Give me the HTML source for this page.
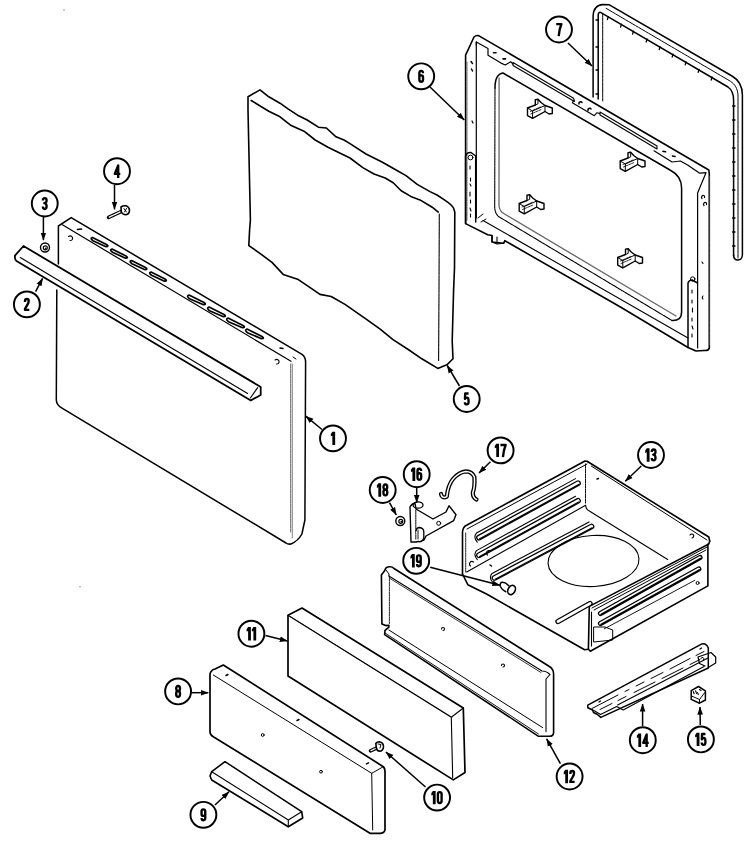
<!DOCTYPE html>
<html><head><meta charset="utf-8">
<style>
html,body{margin:0;padding:0;background:#fff;width:750px;height:858px;overflow:hidden;}
svg{display:block;}
</style></head><body>
<svg width="750" height="858" viewBox="0 0 750 858">
<defs>
<marker id="ah" viewBox="0 0 10 10" refX="9.5" refY="5" markerWidth="8" markerHeight="8" orient="auto" markerUnits="userSpaceOnUse">
<path d="M0,1.5 L10,5 L0,8.5 z" fill="#000"/>
</marker>
<g id="clip">
<path d="M0.2,9 L8,6 L8,0.6 L10.7,0.3 L13.7,3.5 L17.7,6.5 L25,9 L25,14.5 L21.7,15 L17.7,12.5 L5.3,19.3 L0.2,16.6 Z" stroke-width="1.4"/>
<path d="M5.3,19.3 L5.3,12 L17.7,6.5 M0.2,9 L5.3,12 M17.7,6.5 L17.7,12.5 M8,6 L10.7,4.8 L10.7,0.3" stroke-width="1"/>
<path d="M3,12.5 L13,8 M3.5,15 L14,10.5" stroke-width="0.8" stroke-dasharray="2,1"/>
</g>
</defs>
<g fill="none" stroke="#000" stroke-width="1.4" stroke-linejoin="round" stroke-linecap="round">

<!-- PART 1 DOOR -->
<path d="M58.4,264 L58.4,226 L71.2,217.6 L302,354.3 Q305.6,357 305.6,362 L304.9,520 L301.9,534 Q298,541 291,544 Q288,544.5 286,543 L62,408.2 Q56.5,405 56.3,400 L56.8,290" stroke-width="1.5"/>
<path d="M62.4,224.8 L291,361.3" stroke-width="1.2"/>
<path d="M290.7,364 L290.7,532" stroke="#444" stroke-width="0.9" stroke-dasharray="1.5,1"/>
<path d="M292.3,364 L292.3,538" stroke="#777" stroke-width="0.9"/>
<g stroke-width="1.7">
<path d="M92.5,237.5 L106.5,244.5 Q109.5,246.6 106.0,246.7 L93.0,240.7 Q89.5,238.1 92.5,237.5z"/>
<path d="M112.0,249.0 L126.0,256.0 Q129.0,258.1 125.5,258.2 L112.5,252.2 Q109.0,249.6 112.0,249.0z"/>
<path d="M131.5,260.5 L145.5,267.5 Q148.5,269.6 145.0,269.7 L132.0,263.7 Q128.5,261.1 131.5,260.5z"/>
<path d="M151.0,272.0 L165.0,279.0 Q168.0,281.1 164.5,281.2 L151.5,275.2 Q148.0,272.6 151.0,272.0z"/>
<path d="M189.0,295.0 L204.0,302.5 Q207.0,304.6 203.5,304.7 L189.5,298.7 Q186.0,296.1 189.0,295.0z"/>
<path d="M209.0,307.0 L224.0,314.5 Q227.0,316.6 223.5,316.7 L209.5,310.7 Q206.0,308.1 209.0,307.0z"/>
<path d="M228.0,318.0 L243.0,325.5 Q246.0,327.6 242.5,327.7 L228.5,321.7 Q225.0,319.1 228.0,318.0z"/>
<path d="M247.0,329.0 L262.0,336.5 Q265.0,338.6 261.5,338.7 L247.5,332.7 Q244.0,330.1 247.0,329.0z"/>
</g>
<path d="M68.5,236.5 Q71,235 72.5,237.5 Q73,240.5 70,240.5" stroke-width="1.1"/>
<path d="M77.5,229.5 L81.5,229" stroke-width="1.6"/>
<path d="M275,360 Q277.5,358.5 279,361 Q279.5,364 276.5,364" stroke-width="1.1"/>
<path d="M280,348 L283,348.5" stroke-width="1.4"/>
<path d="M293,357 L296,359" stroke-width="1"/>

<!-- PART 2 HANDLE -->
<path d="M23.5,246 L259.1,386 L260.7,387 L260.7,395 L250.8,400.4 L16.5,261 Q15,260 14.9,257.5 L14.9,255.6 Z" fill="#fff" stroke-width="1.8"/>
<path d="M20.3,257.5 L247.6,393.5" stroke-width="1.1"/>
<path d="M257.7,387.6 L250.3,398" stroke-width="1.1"/>
<!-- PART 3 nut -->
<circle cx="45" cy="247.5" r="4.5" stroke-width="1.4"/>
<circle cx="45.3" cy="247.8" r="2" stroke-width="1.2"/>
<circle cx="45.6" cy="248.2" r="0.8" fill="#000" stroke="none"/>
<!-- PART 4 screw -->
<path d="M108.6,217.4 L121,211.6" stroke-width="3.6"/>
<path d="M109.2,217.1 L120.6,211.8" stroke="#fff" stroke-width="1.3" stroke-dasharray="1.2,1"/>
<path d="M121,207 Q123,205.5 126,205.8 Q129.5,207 129.5,211 Q129,214.5 126,214.8 Q122.5,214.6 121.3,212 Z" fill="#fff" stroke-width="1.6"/>
<path d="M124,208.5 L126.5,212 M126.5,208.5 L124.5,212" stroke-width="1"/>

<!-- PART 5 INSULATION -->
<path d="M248,96.8 L260,89.9 L268.8,96.8 L280,103.2 L288,108.8 L297.6,115.2 L307.2,120 L318.4,127.2 L326.4,128 L336,136.8 L344,140 L350,143.6 L366,154 L382,162 L394.8,169.2 L406,175.6 L417.2,184.4 L430,191.6 L437,195 L444.4,199.9 Q452,205 453.5,208 L454.8,212 L454.5,268 L453.6,290 L452.2,341 L453,358.8 L447.4,364.4 L437.8,368.4 L421.8,358.8 L409,350 L393,339.6 L380.2,329.2 L365.8,318.8 L345,304.4 L331.2,296.5 L320,294.4 L307.2,285.6 L297.6,279.2 L283.2,274.4 L272,262.4 L259.2,252.8 L248.8,245.6 L249.6,230 L250.4,220 L248,110 Z" stroke-width="1.6"/>
<path d="M251.2,100.5 L268.8,111.2 L280,116.8 L291.2,125.6 L304,131.2 L315.2,140 L328,147.2 L339.2,152.8 L350,158 L362.8,167.6 L374,174 L385.2,178 L393.2,182.8 L401.2,190.8 L410.8,196.4 L420,199.9 L432.2,207.2 L438.3,212.1" stroke-width="1.6"/>
<path d="M439.3,214 L439,290 L438.6,360.4" stroke-width="1.1" stroke-dasharray="3,0.6"/>

<!-- PART 7 GASKET (behind frame) -->
<path d="M593.1,97 L593.1,16 Q593.5,5 603,4.4 L609.4,4.8 L732,76 Q742.4,82 742.4,95 L742.4,255 Q742,260 738,260 Q733.6,260 733.6,255" stroke-width="1.5"/>
<path d="M598.2,99 L598.2,15 Q598.5,12 600.6,12.4 L728,87 Q733.6,91 733.6,100 L733.6,256" stroke-width="1.5"/>
<path d="M602.7,101 L602.7,14 M606.2,8.4 L730,81 Q738,86 738,96 L738,258" stroke-width="1" stroke-dasharray="3,0.8"/>
<g stroke-width="1.3">
<path d="M596,20 l2.5,0 M596,47 l2.5,0 M596,70 l2.5,0 M596,94 l2.5,0"/>
<path d="M608.2,16.6 l-0.8,3 M621.4,24.2 l-0.8,3 M633.4,31.2 l-0.8,3 M647,39 l-0.8,3 M660,46.6 l-0.8,3 M673,54.2 l-0.8,3 M686,61.8 l-0.8,3 M699,69.4 l-0.8,3 M712,77 l-0.8,3"/>
<path d="M732.5,106 l2.5,0 M732.5,120 l2.5,0 M732.5,134 l2.5,0 M732.5,148 l2.5,0 M732.5,162 l2.5,0 M732.5,176 l2.5,0 M732.5,190 l2.5,0 M732.5,204 l2.5,0 M732.5,218 l2.5,0 M732.5,232 l2.5,0 M732.5,246 l2.5,0"/>
</g>

<!-- PART 6 FRAME -->
<g>
<path d="M465.6,223.6 L465.6,55.2 L474,37 Q476,35 478.6,35.6 L708.8,170 L709.3,174 L709.3,348 Q708.5,351 704,350.5 L696,351 L688,347.5 L620,306.7 L504.8,240.7 L503.7,243.3 L492,242 L492,235.5 L487.7,234.8 Z" fill="#fff" stroke-width="1.6"/>
<path d="M476.3,42.1 L476.3,218" stroke-width="1.2"/>
<path d="M476.3,42.1 L488,48.6 L488,55.2 L501,63.1 L505.3,65 L510.7,61.7 L513,64" stroke-width="1.2"/>
<path d="M513,62.5 L573.6,98.3 L574.5,101.5 L513,65.5 Z" stroke-width="1.1"/>
<path d="M573.7,100.5 L572.3,102.7 L594.3,115.7 L597,112.7 L599.7,113.5" stroke-width="1.1"/>
<path d="M579,104 a1.6,1.3 -30 1,1 3,-1.5 M588,110.5 a1.6,1.3 -30 1,1 3,-1.5" stroke-width="1.5"/>
<path d="M600,112 L657,146 L657,149 L600,115 Z" stroke-width="1.1"/>
<path d="M654,150.8 L672,162 L680.5,161 L688,165.2 L699.7,173.2 L706,172.7 L697.6,193 L697.6,348" stroke-width="1.2"/>
<path d="M476.3,42.1 L476.3,45" stroke-width="1.2"/>
<path d="M467,62 L467,220" stroke="#555" stroke-width="0.9" stroke-dasharray="1.5,1"/>
<path d="M709.3,176 L709.3,346" stroke="#555" stroke-width="0.9" stroke-dasharray="1.5,1"/>
<!-- window -->
<path d="M495,88 Q495,74 503,73 L670,170 Q681.6,176 681.6,188 L681.6,312 Q681.6,321 672,320.5" stroke-width="1.5"/>
<path d="M495,88 L494.7,207 Q495,215 500.5,217.7 L672,320.5" stroke-width="1.1" stroke-dasharray="2,0.8"/>
<path d="M499.1,78 L499,205 Q499.5,211 503,213 L676,316" stroke="#666" stroke-width="1.3"/>
<!-- bottom flange line C -->
<path d="M483,220.4 L688,338" stroke-width="1.1"/>
<!-- left bracket -->
<path d="M465.6,223.6 L465.6,156 Q467,152 471,152.5 L475.7,156 L475.7,222" stroke-width="1.5"/>
<circle cx="470.5" cy="157.5" r="2.4" stroke-width="1"/>
<path d="M470,166 l0,3 M470.5,178 l0,3 M470,184 l1,2 M470,192 l0,4 M470.5,200 l0,3 M470,208 l1,3 M470.5,214 l0,3" stroke-width="1.1"/>
<!-- right bracket -->
<path d="M688,347.5 L688,283 Q689,280 692,280 L697.6,283" stroke-width="1.5"/>
<circle cx="692.7" cy="279" r="2.2" stroke-width="1"/>
<path d="M692,290 l0,3 M692,300 l0,3 M692.5,308 l0,4 M692,318 l0,3 M692,326 l1,3 M692,334 l0,3" stroke-width="1.1"/>
<!-- holes / marks -->
<path d="M471,61.5 l1.5,2 M471.5,69 l1,2" stroke-width="1.4"/>
<path d="M493.5,52.8 l2.5,0 M503,58.9 l2.5,0 M663,151.3 l2.5,0.5 M672.5,156 l2.5,0.5" stroke-width="1.6"/>
<path d="M702,198.5 a1.5,1.8 20 1,1 2.5,-1" stroke-width="1.2"/>
<path d="M704,205.5 a1.5,1.8 20 1,1 2.5,-1" stroke-width="1.2"/>
<path d="M702,262 l1,1.5 M703,296 q-1.5,2 0,3" stroke-width="1.1"/>
<path d="M472,121 l1,2" stroke-width="1.2"/>
<!-- bottom tab -->
<path d="M492,235.5 L492,242 L497,244 L503.7,243.3 L504.8,240.7 M497,237 L497,244" stroke-width="1.1"/>
<path d="M478,218 L483,214 M481,222 L486,219" stroke-width="1"/>
<!-- clips -->
<use href="#clip" x="527.3" y="99"/>
<use href="#clip" x="620" y="152"/>
<use href="#clip" x="519" y="194.5"/>
<use href="#clip" x="617.5" y="248.5"/>
</g>

<!-- PART 13 DRAWER -->
<g>
<!-- left wall -->
<path d="M462.5,574 L462.5,532 Q463,526.5 467,525 L585,461 L587.5,461.5" stroke-width="1.6"/>
<path d="M467,529 L587,464" stroke-width="1"/>
<path d="M465.7,533 L465.7,572" stroke-width="0.9" stroke-dasharray="1.5,1"/>
<path d="M466.7,571.9 L585.6,505.3" stroke-width="1.1"/>
<!-- back wall -->
<path d="M587.5,461.5 L708.8,537 L709.7,541" stroke-width="1.6"/>
<path d="M591.2,466 L707,540" stroke-width="1"/>
<path d="M585.5,464 L585.5,503" stroke-width="1" stroke-dasharray="1.5,1"/>
<path d="M585.6,505.3 Q586,510 589.3,511 L667.7,559.5" stroke-width="1.1"/>
<!-- right wall -->
<path d="M709.7,541 L708.8,544 L589.3,606.4 L588.4,649.3 L590.3,651.2 L707.9,585.9 L707.9,544" stroke-width="1.6" fill="#fff"/>
<path d="M707,547 L592,608 M706,550 L594,610" stroke-width="1"/>
<path d="M591.5,612 L591.5,646" stroke-width="1.1"/>
<!-- floor front edge -->
<path d="M462.5,574 L467.8,584.7 L487,594.3 L584.6,649.8 L588.4,649.3" stroke-width="1.6"/>
<!-- slots left -->
<path d="M479,537.6 L578,483.2" stroke-width="5.8" stroke-linecap="round"/><path d="M479,537.6 L578,483.2" stroke="#fff" stroke-width="3.2" stroke-linecap="round"/><path d="M479.67,538.83 L578.67,484.43" stroke-width="1.2"/><path d="M477.31,542.09 Q472.94,537.37 476.50,533.04 L575.50,478.64" stroke-width="1.1"/>
<path d="M479,555.2 L578,500.8" stroke-width="5.8" stroke-linecap="round"/><path d="M479,555.2 L578,500.8" stroke="#fff" stroke-width="3.2" stroke-linecap="round"/><path d="M479.67,556.43 L578.67,502.03" stroke-width="1.2"/><path d="M477.31,559.69 Q472.94,554.97 476.50,550.64 L575.50,496.24" stroke-width="1.1"/>
<path d="M494.5,578 L591.5,526.5" stroke-width="5.8" stroke-linecap="round"/><path d="M494.5,578 L591.5,526.5" stroke="#fff" stroke-width="3.2" stroke-linecap="round"/><path d="M495.16,579.24 L592.16,527.74" stroke-width="1.2"/><path d="M492.75,582.46 Q488.44,577.68 492.06,573.41 L589.06,521.91" stroke-width="1.1"/>
<!-- right wall slots -->
<path d="M600.5,613.5 L700,557.5" stroke-width="5.2" stroke-linecap="round"/><path d="M600.5,613.5 L700,557.5" stroke="#fff" stroke-width="2.6" stroke-linecap="round"/><path d="M601.04,614.46 L700.54,558.46" stroke-width="1.6"/>
<path d="M600.5,623.5 L698.8,569" stroke-width="5.2" stroke-linecap="round"/><path d="M600.5,623.5 L698.8,569" stroke="#fff" stroke-width="2.6" stroke-linecap="round"/><path d="M601.03,624.46 L699.33,569.96" stroke-width="1.6"/>
<path d="M604.3,628.8 L694.8,580.3" stroke-width="0.9"/>
<path d="M594,627 L605,627 L612.7,630 L612.7,640 L594,642 Z" stroke-width="1"/>
<circle cx="697.6" cy="583" r="1.5" stroke-width="1"/>
<!-- floor slot near front -->
<path d="M558,621.5 L590,603.5" stroke-width="5.4" stroke-linecap="round"/><path d="M558,621.5 L590,603.5" stroke="#fff" stroke-width="2.8" stroke-linecap="round"/>
<!-- floor circle -->
<ellipse cx="593.5" cy="561" rx="45.5" ry="25.5" transform="rotate(-3 593.5 561)" stroke-width="1.1"/>
<!-- holes -->
<path d="M470.5,566 a2.5,2.5 0 1,1 3,-4 M487.5,555 a2.5,2.5 0 1,1 3,-4" stroke-width="1.2"/>
<path d="M490,565 l1.5,1" stroke-width="1.5"/>
<path d="M597,479 l1.5,-0.5" stroke-width="1.4"/>
<path d="M690,535 a2,2 0 1,1 2,3" stroke-width="1.1"/>
</g>

<!-- PART 19 pin -->
<path d="M508.8,585.7 Q505,581.5 501.1,582.5 Q499.5,584.5 500.3,586.5 Q502,590 505.8,591.7" fill="#fff" stroke-width="1.5"/>
<ellipse cx="511.6" cy="590" rx="3.5" ry="4.9" transform="rotate(28 511.6 590)" stroke-width="1.6" fill="#fff"/>

<!-- PART 12 DRAWER FRONT -->
<path d="M387.8,567 Q392,566 394,568.5 L549,666.3 Q553.6,669 553.6,674 L553.6,733 Q553,736.3 549.5,736.3 L538.5,736.3 L384.6,634.7 L385,630.4 L388.9,627.2 L388.9,625.2 L385.7,625.6 L381.9,624 L381.4,575 L384.6,570.7 Q385.5,567.5 387.8,567 Z" fill="#fff" stroke-width="1.6"/>
<path d="M388.9,576 L542,671 Q546.6,671 550,674.5 L546,679 L546,731.6" stroke-width="1.1"/>
<path d="M390,578.5 L541,672.5" stroke-width="0.8"/>
<path d="M389.4,577 L389.4,624" stroke-width="0.9" stroke-dasharray="1.5,1"/>
<path d="M388.9,630 L542.6,727.6" stroke-width="1"/>
<path d="M385,633 L538.5,734" stroke-width="0.9"/>
<path d="M386,570 L389,574 L388.9,576" stroke-width="1"/>
<path d="M441.5,629 a1.5,1.5 0 1,1 1.5,1.5" stroke-width="1.1"/>
<path d="M501.5,665.5 a1.5,1.5 0 1,1 1.5,1.5" stroke-width="1.1"/>

<circle cx="80" cy="586.7" r="0.5" fill="#000" stroke="none"/>
<circle cx="64" cy="10" r="0.5" fill="#000" stroke="none"/>
<!-- PART 11 -->
<path d="M288,676 L288,615.3 L302,608 L463.3,708 L465,772.5 L453.3,779.9 L288,676z" fill="#fff" stroke-width="1.7"/>
<path d="M288,615.3 L451.3,717.3 L463.3,708 M451.3,717.3 L452.7,778" stroke-width="1.1"/>
<path d="M290,616.5 L450,716" stroke-width="0.6"/>

<!-- PART 8 -->
<path d="M210,731.7 L210,674 Q211,670 215,669 L223.3,665 L383.3,766.7 Q385,768 385,772 L385,830 Q384,833.3 380,833.3 L370,833.3 L213.3,736.7 Q210,735 210,731.7z" fill="#fff" stroke-width="1.7"/>
<path d="M213.3,675 L371.7,773.3 L383.3,766.7 M371.7,773.3 L372.7,830" stroke-width="1"/>
<path d="M226,675.5 l2,-1 M297,720.5 l2,-1 M366.5,763.8 l2,-1" stroke-width="1.5"/>
<circle cx="262.7" cy="735" r="1.4" stroke-width="1"/>
<circle cx="321" cy="771.7" r="1.4" stroke-width="1"/>

<!-- PART 9 -->
<path d="M211.7,771.7 L225,761.7 L301.7,811.7 L302.7,818 L288.3,826.7 L211.7,780 L210,776z" fill="#fff" stroke-width="1.6"/>
<path d="M211.7,771.7 L288.3,820 L301.7,811.7 M288.3,820 L288.3,826.7" stroke-width="1.1"/>

<!-- PART 10 screw -->
<path d="M370.5,750.8 L378.5,747.2" stroke-width="3.6"/>
<path d="M371,750.6 L378,747.4" stroke="#fff" stroke-width="1.3" stroke-dasharray="1.2,1"/>
<path d="M375.8,743.5 Q377,741.8 379.5,741.8 Q383.3,742.5 383.5,746.5 Q383.3,750.8 380,751.2 Q377,751 376.5,748.5 Z" fill="#fff" stroke-width="1.6"/>
<path d="M378,744 L381,744.5 L380,748" stroke-width="1"/>

<!-- PART 14 rail -->
<path d="M587.8,705.2 L701.9,643.9 Q706.5,643 708.3,648 L708.3,668 L600.8,717.4 L597.5,714.5 L593.5,712.5 L592.5,710 L587.8,707.8 Z" fill="#fff" stroke-width="1.5"/>
<path d="M592.5,710 L594.3,710.8 L600.5,714.5 L616.7,706.5 L623.2,709.9 L704,666.5" stroke-width="1.1"/>
<path d="M617.6,705 L708,658" stroke-width="1.1"/>
<path d="M592,708.5 L618,695 M625,691.5 L629,689.5 M636,686 L644,682 M651,678.5 L663,672.5 M670,669 L690,658.5 M696,655.5 L704,651.5" stroke-width="1" />
<path d="M600,709.5 L612,703.5 M618,700.5 L626,696.5 M634,692.5 L655,682 M662,678.5 L683,668 M690,664.5 L700,659.5" stroke-width="1"/>
<path d="M698,657 L711,652.5 L715.7,657 L715.7,663 L708.3,667.5 M698,657 L699.5,663.5 L705,666" stroke-width="1.2"/>
<path d="M701,658.5 a1.5,1.5 0 1,1 2.5,1.5" stroke-width="1"/>
<path d="M599,702 l1.5,-1 M700,649 l1.5,-1" stroke-width="1.3"/>
<!-- PART 15 clip -->
<path d="M698.5,686.5 L705.4,690.8 L705.4,700 L699.5,703.2 L691.2,699.4 L691.2,690.7 Z" fill="#fff" stroke-width="1.5"/>
<path d="M691.5,696 L699.5,699.5 L699.5,703 M699.5,699.5 L704.8,692.5" stroke-width="1"/>
<path d="M693.3,691.5 l0.8,2.2 M695.6,690.8 l0.9,2.6 M697.6,692.6 l0.7,2 M699.5,689.5 l1.5,1" stroke-width="1.1"/>

<!-- PART 16 bracket -->
<path d="M411,542 L410,507 Q412,503 415,503.5 L416,509 L433,519 L446,512 L449,505.7 L456,514.7 L453.7,520.6 L426,536 L424,540 L416,542z" fill="#fff" stroke-width="1.4"/>
<path d="M415.8,510 L415.8,540" stroke-width="1" stroke-dasharray="1.5,1"/>
<path d="M416,531 Q416.5,527.5 419.5,527.5 Q423.5,528 423.8,531.5 L423.8,538 Q423,541.5 419,541.8" fill="#fff" stroke-width="1.3"/>
<path d="M418,530 L418,539" stroke-width="0.9"/>
<ellipse cx="418" cy="505" rx="5" ry="3.2" stroke-width="1.3"/>
<circle cx="438.7" cy="523.3" r="2" stroke-width="1"/>
<!-- PART 17 wire -->
<path d="M441,494 Q442,499 446.8,496.6 Q448,485 453,479 Q459,472 466,471.4 Q472,471.5 474.4,477 Q475,487 472.8,492.5 Q472.8,498 476.5,499.5" stroke-width="4.2"/>
<path d="M441,494 Q442,499 446.8,496.6 Q448,485 453,479 Q459,472 466,471.4 Q472,471.5 474.4,477 Q475,487 472.8,492.5 Q472.8,498 476.5,499.5" stroke="#fff" stroke-width="1.5"/>
<!-- PART 18 nut -->
<circle cx="400.3" cy="521" r="4.5" stroke-width="1.4"/>
<circle cx="400.8" cy="521.3" r="2" stroke-width="1.2"/>
<circle cx="401.3" cy="521.6" r="0.9" fill="#000" stroke="none"/>
</g>


<g fill="none" stroke="#000" stroke-width="1.5">
<line x1="322" y1="429.5" x2="305.8" y2="416.2" marker-end="url(#ah)"/>
<line x1="35.6" y1="291.6" x2="42.6" y2="278.3" marker-end="url(#ah)"/>
<line x1="43.4" y1="217" x2="43.4" y2="240.2" marker-end="url(#ah)"/>
<line x1="114.5" y1="185" x2="114.5" y2="209.4" marker-end="url(#ah)"/>
<line x1="459.5" y1="386" x2="447.2" y2="365.5" marker-end="url(#ah)"/>
<line x1="430" y1="87" x2="464.3" y2="120" marker-end="url(#ah)"/>
<line x1="568" y1="43" x2="592" y2="66" marker-end="url(#ah)"/>
<line x1="191.7" y1="692.7" x2="208.3" y2="692.7" marker-end="url(#ah)"/>
<line x1="215" y1="805" x2="229" y2="791.7" marker-end="url(#ah)"/>
<line x1="425.5" y1="787" x2="385.9" y2="752" marker-end="url(#ah)"/>
<line x1="265.5" y1="635.6" x2="287.4" y2="641" marker-end="url(#ah)"/>
<line x1="560.4" y1="763.7" x2="546.6" y2="738.8" marker-end="url(#ah)"/>
<line x1="641.3" y1="466" x2="625.3" y2="481.3" marker-end="url(#ah)"/>
<line x1="642.6" y1="726" x2="642.6" y2="704" marker-end="url(#ah)"/>
<line x1="700.3" y1="725" x2="700" y2="707" marker-end="url(#ah)"/>
<line x1="416.7" y1="488" x2="416.7" y2="502.6" marker-end="url(#ah)"/>
<line x1="490.4" y1="461.7" x2="479" y2="473" marker-end="url(#ah)"/>
<line x1="389.5" y1="502.6" x2="396.3" y2="515" marker-end="url(#ah)"/>
<line x1="430.2" y1="567.2" x2="500" y2="585.3" marker-end="url(#ah)"/>
</g>
<g fill="#fff" stroke="#000" stroke-width="1.95">
<circle cx="333" cy="438.4" r="12.95"/>
<circle cx="26.9" cy="304.4" r="12.95"/>
<circle cx="44.75" cy="203.5" r="12.95"/>
<circle cx="117" cy="171.2" r="12.95"/>
<circle cx="466.7" cy="399" r="12.95"/>
<circle cx="421.2" cy="76.3" r="12.95"/>
<circle cx="559" cy="29.5" r="12.95"/>
<circle cx="178.1" cy="691.4" r="12.95"/>
<circle cx="203.4" cy="814.8" r="12.95"/>
<circle cx="437.1" cy="797.6" r="12.95"/>
<circle cx="251.4" cy="633.7" r="12.95"/>
<circle cx="569.6" cy="776.5" r="12.95"/>
<circle cx="651" cy="455" r="12.95"/>
<circle cx="642.8" cy="740.2" r="12.95"/>
<circle cx="700.9" cy="739.4" r="12.95"/>
<circle cx="416.7" cy="474.2" r="12.95"/>
<circle cx="500.6" cy="450.4" r="12.95"/>
<circle cx="382.7" cy="490" r="12.95"/>
<circle cx="416.2" cy="560.8" r="12.95"/>
</g>
<g fill="none" stroke="#000" stroke-width="2.35" stroke-linejoin="round" stroke-linecap="butt">
<g aria-label="1" role="img">
<path transform="translate(330.85,431.70)" d="M1.5,0 L4.3,0 L4.3,13.4 L1.5,13.4 L1.5,4.0 L0,4.6 L0,2.2 Z" fill="#000" stroke="none"/>
</g>
<g aria-label="2" role="img">
<path transform="translate(23.70,297.70)" d="M1.3,4.2 L1.3,3.1 Q1.3,1.25 3.2,1.25 Q5.0,1.25 5.0,3.3 Q5.0,5.0 3.9,6.7 L1.3,11.2 L1.3,12.15 L5.6,12.15"/>
</g>
<g aria-label="3" role="img">
<path transform="translate(41.65,196.80)" d="M1.2,3.6 Q1.2,1.25 3.1,1.25 Q4.95,1.25 4.95,3.5 Q4.95,6.1 2.7,6.3 Q4.95,6.5 4.95,9.5 Q4.95,12.15 3.1,12.15 Q1.2,12.15 1.2,9.8"/>
</g>
<g aria-label="4" role="img">
<path transform="translate(113.70,164.50)" d="M4.5,13.4 L4.5,1.0 L1.1,9.3 L6.6,9.3"/>
</g>
<g aria-label="5" role="img">
<path transform="translate(463.60,392.30)" d="M5.0,1.25 L1.6,1.25 L1.35,6.6 Q2.1,5.3 3.3,5.3 Q4.95,5.3 4.95,8.0 L4.95,9.8 Q4.95,12.15 3.1,12.15 Q1.25,12.15 1.25,9.9"/>
</g>
<g aria-label="6" role="img">
<path transform="translate(418.10,69.60)" d="M4.9,3.6 Q4.9,1.25 3.1,1.25 Q1.25,1.25 1.25,3.5 L1.25,10.2 Q1.25,12.15 3.1,12.15 Q4.95,12.15 4.95,10.2 L4.95,7.8 Q4.95,5.7 3.1,5.7 Q1.25,5.7 1.25,7.4"/>
</g>
<g aria-label="7" role="img">
<path transform="translate(555.80,22.80)" d="M0.4,1.25 L5.6,1.25 Q3.6,6.0 2.9,13.4"/>
</g>
<g aria-label="8" role="img">
<path transform="translate(174.90,684.70)" d="M3.2,6.3 Q1.3,6.3 1.3,3.8 Q1.3,1.25 3.2,1.25 Q5.1,1.25 5.1,3.8 Q5.1,6.3 3.2,6.3 Q1.25,6.3 1.25,9.2 Q1.25,12.15 3.2,12.15 Q5.15,12.15 5.15,9.2 Q5.15,6.3 3.2,6.3 Z"/>
</g>
<g aria-label="9" role="img">
<path transform="translate(200.30,808.10)" d="M1.3,9.8 Q1.3,12.15 3.1,12.15 Q4.95,12.15 4.95,10.0 L4.95,3.2 Q4.95,1.25 3.1,1.25 Q1.25,1.25 1.25,3.2 L1.25,5.8 Q1.25,7.8 3.1,7.8 Q4.95,7.8 4.95,6.0"/>
</g>
<g aria-label="10" role="img">
<path transform="translate(431.35,790.90)" d="M1.5,0 L4.3,0 L4.3,13.4 L1.5,13.4 L1.5,4.0 L0,4.6 L0,2.2 Z" fill="#000" stroke="none"/>
<path transform="translate(436.65,790.90)" d="M1.25,3.2 Q1.25,1.25 3.1,1.25 Q4.95,1.25 4.95,3.2 L4.95,10.2 Q4.95,12.15 3.1,12.15 Q1.25,12.15 1.25,10.2 Z"/>
</g>
<g aria-label="11" role="img">
<path transform="translate(246.60,627.00)" d="M1.5,0 L4.3,0 L4.3,13.4 L1.5,13.4 L1.5,4.0 L0,4.6 L0,2.2 Z" fill="#000" stroke="none"/>
<path transform="translate(251.90,627.00)" d="M1.5,0 L4.3,0 L4.3,13.4 L1.5,13.4 L1.5,4.0 L0,4.6 L0,2.2 Z" fill="#000" stroke="none"/>
</g>
<g aria-label="12" role="img">
<path transform="translate(563.75,769.80)" d="M1.5,0 L4.3,0 L4.3,13.4 L1.5,13.4 L1.5,4.0 L0,4.6 L0,2.2 Z" fill="#000" stroke="none"/>
<path transform="translate(569.05,769.80)" d="M1.3,4.2 L1.3,3.1 Q1.3,1.25 3.2,1.25 Q5.0,1.25 5.0,3.3 Q5.0,5.0 3.9,6.7 L1.3,11.2 L1.3,12.15 L5.6,12.15"/>
</g>
<g aria-label="13" role="img">
<path transform="translate(645.25,448.30)" d="M1.5,0 L4.3,0 L4.3,13.4 L1.5,13.4 L1.5,4.0 L0,4.6 L0,2.2 Z" fill="#000" stroke="none"/>
<path transform="translate(650.55,448.30)" d="M1.2,3.6 Q1.2,1.25 3.1,1.25 Q4.95,1.25 4.95,3.5 Q4.95,6.1 2.7,6.3 Q4.95,6.5 4.95,9.5 Q4.95,12.15 3.1,12.15 Q1.2,12.15 1.2,9.8"/>
</g>
<g aria-label="14" role="img">
<path transform="translate(636.85,733.50)" d="M1.5,0 L4.3,0 L4.3,13.4 L1.5,13.4 L1.5,4.0 L0,4.6 L0,2.2 Z" fill="#000" stroke="none"/>
<path transform="translate(642.15,733.50)" d="M4.5,13.4 L4.5,1.0 L1.1,9.3 L6.6,9.3"/>
</g>
<g aria-label="15" role="img">
<path transform="translate(695.15,732.70)" d="M1.5,0 L4.3,0 L4.3,13.4 L1.5,13.4 L1.5,4.0 L0,4.6 L0,2.2 Z" fill="#000" stroke="none"/>
<path transform="translate(700.45,732.70)" d="M5.0,1.25 L1.6,1.25 L1.35,6.6 Q2.1,5.3 3.3,5.3 Q4.95,5.3 4.95,8.0 L4.95,9.8 Q4.95,12.15 3.1,12.15 Q1.25,12.15 1.25,9.9"/>
</g>
<g aria-label="16" role="img">
<path transform="translate(410.95,467.50)" d="M1.5,0 L4.3,0 L4.3,13.4 L1.5,13.4 L1.5,4.0 L0,4.6 L0,2.2 Z" fill="#000" stroke="none"/>
<path transform="translate(416.25,467.50)" d="M4.9,3.6 Q4.9,1.25 3.1,1.25 Q1.25,1.25 1.25,3.5 L1.25,10.2 Q1.25,12.15 3.1,12.15 Q4.95,12.15 4.95,10.2 L4.95,7.8 Q4.95,5.7 3.1,5.7 Q1.25,5.7 1.25,7.4"/>
</g>
<g aria-label="17" role="img">
<path transform="translate(494.75,443.70)" d="M1.5,0 L4.3,0 L4.3,13.4 L1.5,13.4 L1.5,4.0 L0,4.6 L0,2.2 Z" fill="#000" stroke="none"/>
<path transform="translate(500.05,443.70)" d="M0.4,1.25 L5.6,1.25 Q3.6,6.0 2.9,13.4"/>
</g>
<g aria-label="18" role="img">
<path transform="translate(376.85,483.30)" d="M1.5,0 L4.3,0 L4.3,13.4 L1.5,13.4 L1.5,4.0 L0,4.6 L0,2.2 Z" fill="#000" stroke="none"/>
<path transform="translate(382.15,483.30)" d="M3.2,6.3 Q1.3,6.3 1.3,3.8 Q1.3,1.25 3.2,1.25 Q5.1,1.25 5.1,3.8 Q5.1,6.3 3.2,6.3 Q1.25,6.3 1.25,9.2 Q1.25,12.15 3.2,12.15 Q5.15,12.15 5.15,9.2 Q5.15,6.3 3.2,6.3 Z"/>
</g>
<g aria-label="19" role="img">
<path transform="translate(410.45,554.10)" d="M1.5,0 L4.3,0 L4.3,13.4 L1.5,13.4 L1.5,4.0 L0,4.6 L0,2.2 Z" fill="#000" stroke="none"/>
<path transform="translate(415.75,554.10)" d="M1.3,9.8 Q1.3,12.15 3.1,12.15 Q4.95,12.15 4.95,10.0 L4.95,3.2 Q4.95,1.25 3.1,1.25 Q1.25,1.25 1.25,3.2 L1.25,5.8 Q1.25,7.8 3.1,7.8 Q4.95,7.8 4.95,6.0"/>
</g>
</g>
</svg>
</body></html>
